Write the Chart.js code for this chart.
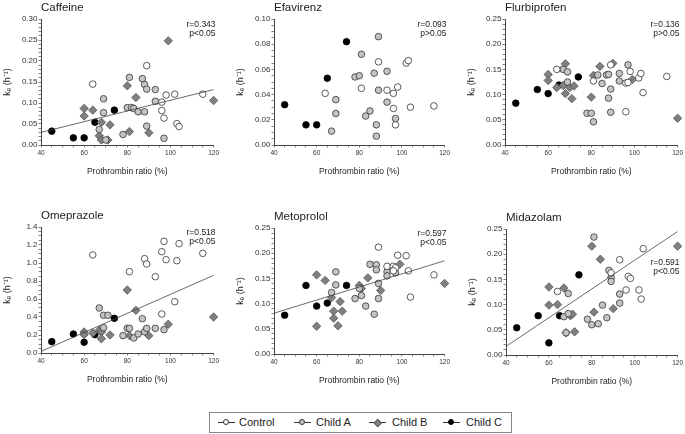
<!DOCTYPE html>
<html>
<head>
<meta charset="utf-8">
<script src="https://cdn.jsdelivr.net/npm/chart.js@4.4.0/dist/chart.umd.min.js"></script>
<style>
  body { margin: 0; background: #fff; width: 685px; height: 434px; position: relative; overflow: hidden;
         font-family: "Liberation Sans", Arial, sans-serif; color: #222; }
  .panel { position: absolute; }
  .legend { position: absolute; left: 209px; top: 412px; width: 303px; height: 21px;
            border: 1px solid #888; box-sizing: border-box; }
  .item { position: absolute; top: 0; height: 19px; }
  .sym { position: absolute; top: 9px; width: 17px; height: 1px; background: #333; }
  .mk { position: absolute; left: 5px; top: -3px; width: 6px; height: 6px; border-radius: 50%;
        border: 0.8px solid #333; box-sizing: border-box; }
  .mk.dia { border-radius: 0; transform: rotate(45deg); width: 5.5px; height: 5.5px; left: 5.5px; top: -2.5px; }
  .lab { position: absolute; top: 3px; font-size: 11px; line-height: 13px; white-space: nowrap; }
</style>
</head>
<body>
<div class="panel" style="left:0px;top:0px"><canvas id="c1" width="221" height="185"></canvas></div>
<div class="panel" style="left:233px;top:0px"><canvas id="c2" width="219" height="185"></canvas></div>
<div class="panel" style="left:464px;top:0px"><canvas id="c3" width="221" height="185"></canvas></div>
<div class="panel" style="left:0px;top:208px"><canvas id="c4" width="221" height="185"></canvas></div>
<div class="panel" style="left:233px;top:209px"><canvas id="c5" width="219" height="185"></canvas></div>
<div class="panel" style="left:465px;top:210px"><canvas id="c6" width="220" height="185"></canvas></div>

<div class="legend">
  <div class="item" style="left:8px"><div class="sym"><div class="mk" style="background:#fff"></div></div><span class="lab" style="left:21px">Control</span></div>
  <div class="item" style="left:84px"><div class="sym"><div class="mk" style="background:#c4c4c4"></div></div><span class="lab" style="left:22px">Child A</span></div>
  <div class="item" style="left:159px"><div class="sym"><div class="mk dia" style="background:#808080;border-color:#555"></div></div><span class="lab" style="left:23px">Child B</span></div>
  <div class="item" style="left:233px"><div class="sym"><div class="mk" style="background:#000;border-color:#000"></div></div><span class="lab" style="left:23px">Child C</span></div>
</div>

<script>
// x axis: prothrombin ratio (%)
const xTickLabels = [40, 60, 80, 100, 120];

// y tick labels per panel
const caffeineYTicks = [0, 0.05, 0.10, 0.15, 0.20, 0.25, 0.30];
const efavirenzYTicks = [0, 0.02, 0.04, 0.06, 0.08, 0.10];
const flurbiprofenYTicks = [0, 0.05, 0.10, 0.15, 0.20, 0.25];
const omeprazoleYTicks = [0, 0.2, 0.4, 0.6, 0.8, 1.0, 1.2, 1.4];
const metoprololYTicks = [0, 0.05, 0.10, 0.15, 0.20, 0.25];
const midazolamYTicks = [0, 0.05, 0.10, 0.15, 0.20, 0.25];

// Caffeine
const caffeineControl = [[64,0.145],[89,0.189],[98,0.119],[102,0.121],[115,0.121],[96,0.082],[97,0.064],[103,0.051],[104,0.044],[96,0.102]];
const caffeineChildA = [[69,0.110],[69,0.077],[67,0.037],[70,0.012],[78,0.025],[80,0.089],[81,0.161],[82,0.089],[83,0.087],[85,0.079],[87,0.158],[88,0.144],[88,0.079],[89,0.133],[89,0.045],[93,0.132],[93,0.104],[97,0.016]];
const caffeineChildB = [[60,0.087],[60,0.069],[64,0.083],[68,0.054],[67,0.022],[68,0.012],[71,0.012],[72,0.048],[80,0.141],[81,0.032],[84,0.113],[90,0.029],[99,0.248],[120,0.106]];
const caffeineChildC = [[45,0.033],[55,0.017],[60,0.017],[65,0.054],[74,0.083]];
const caffeineFit = [[40,0.030],[120,0.132]];

// Efavirenz
const efavirenzControl = [[64,0.041],[81,0.045],[89,0.066],[93,0.0435],[96,0.041],[98,0.046],[96,0.029],[97,0.016],[102,0.065],[103,0.067],[104,0.030],[115,0.031]];
const efavirenzChildA = [[89,0.086],[81,0.072],[78,0.054],[80,0.055],[87,0.057],[93,0.0585],[89,0.0435],[69,0.036],[69,0.025],[85,0.027],[83,0.023],[88,0.016],[88,0.007],[93,0.034],[97,0.021],[67,0.011]];
const efavirenzChildB = [];
const efavirenzChildC = [[45,0.032],[55,0.016],[60,0.016],[65,0.053],[74,0.082]];

// Flurbiprofen
const flurbiprofenControl = [[64,0.150],[81,0.127],[89,0.159],[96,0.123],[97,0.124],[98,0.146],[102,0.133],[103,0.142],[104,0.104],[115,0.136],[96,0.066]];
const flurbiprofenChildA = [[67,0.150],[69,0.145],[69,0.125],[78,0.063],[80,0.063],[81,0.046],[83,0.139],[85,0.122],[87,0.139],[88,0.140],[88,0.093],[89,0.111],[89,0.065],[93,0.142],[93,0.127],[97,0.159]];
const flurbiprofenChildB = [[60,0.140],[60,0.128],[64,0.114],[68,0.161],[67,0.118],[68,0.102],[70,0.114],[72,0.117],[71,0.092],[80,0.095],[81,0.138],[84,0.156],[90,0.162],[99,0.130],[120,0.053]];
const flurbiprofenChildC = [[45,0.083],[55,0.110],[60,0.102],[65,0.119],[74,0.135]];

// Omeprazole
const omeprazoleControl = [[64,1.089],[81,0.904],[88,1.048],[89,0.989],[93,0.848],[96,1.126],[97,1.241],[98,1.037],[103,1.026],[104,1.215],[115,1.107],[102,0.570],[96,0.433]];
const omeprazoleChildA = [[67,0.50],[69,0.419],[71,0.419],[69,0.281],[78,0.193],[80,0.274],[81,0.274],[83,0.167],[85,0.211],[87,0.381],[88,0.236],[89,0.274],[93,0.274],[97,0.259]];
const omeprazoleChildB = [[60,0.233],[60,0.204],[64,0.222],[67,0.252],[68,0.233],[68,0.159],[72,0.200],[80,0.700],[81,0.193],[84,0.474],[90,0.193],[99,0.319],[120,0.400]];
const omeprazoleChildC = [[45,0.126],[55,0.211],[60,0.119],[65,0.204],[74,0.385]];
const omeprazoleFit = [[40,0.017],[120,0.863]];

// Metoprolol
const metoprololControl = [[89,0.212],[93,0.174],[96,0.174],[97,0.171],[98,0.196],[102,0.195],[103,0.165],[104,0.113],[115,0.157],[96,0.165]];
const metoprololChildA = [[67,0.122],[69,0.163],[69,0.137],[78,0.110],[80,0.130],[81,0.116],[83,0.095],[85,0.178],[87,0.079],[88,0.177],[88,0.167],[89,0.140],[89,0.110],[93,0.163],[93,0.155],[97,0.161]];
const metoprololChildB = [[60,0.157],[60,0.055],[64,0.146],[67,0.112],[68,0.085],[68,0.071],[70,0.056],[71,0.104],[72,0.085],[80,0.136],[81,0.130],[84,0.151],[90,0.126],[99,0.178],[120,0.140]];
const metoprololChildC = [[45,0.077],[55,0.136],[60,0.095],[65,0.101],[74,0.136]];
const metoprololFit = [[40,0.081],[120,0.185]];

// Midazolam
const midazolamControl = [[64,0.126],[89,0.163],[93,0.189],[96,0.129],[97,0.156],[98,0.152],[102,0.129],[103,0.111],[104,0.211]];
const midazolamChildA = [[81,0.234],[69,0.122],[67,0.076],[69,0.082],[78,0.071],[80,0.060],[83,0.062],[85,0.099],[87,0.074],[88,0.168],[89,0.154],[89,0.146],[93,0.121],[93,0.103],[68,0.044]];
const midazolamChildB = [[60,0.135],[60,0.099],[64,0.100],[67,0.133],[68,0.044],[70,0.078],[71,0.081],[72,0.046],[80,0.216],[81,0.085],[84,0.190],[90,0.092],[120,0.216]];
const midazolamChildC = [[45,0.054],[55,0.078],[60,0.024],[65,0.078],[74,0.159]];
const midazolamFit = [[40,0.017],[120,0.245]];

const FONT = '"Liberation Sans", Arial, Helvetica, sans-serif';

// panel title + r / p text
const panelText = {
  id: 'panelText',
  afterDraw(chart, args, opts) {
    const ctx = chart.ctx, area = chart.chartArea;
    ctx.save();
    ctx.fillStyle = '#222';
    ctx.textBaseline = 'middle';
    ctx.textAlign = 'left';
    ctx.font = '11.5px ' + FONT;
    ctx.fillText(opts.title, area.left, area.top - 11);
    ctx.font = '8.5px ' + FONT;
    ctx.textAlign = 'right';
    ctx.fillText(opts.r, area.right + 2, area.top + opts.dy);
    ctx.fillText(opts.p, area.right + 2, area.top + opts.dy + 9);
    ctx.restore();
  }
};

function withMinor(majors, parts) {
  var out = [];
  for (var i = 0; i < majors.length - 1; i++) {
    var step = (majors[i + 1] - majors[i]) / parts;
    for (var j = 0; j < parts; j++) out.push(+(majors[i] + j * step).toFixed(6));
  }
  out.push(majors[majors.length - 1]);
  return out;
}

function isMajor(v, majors) {
  return majors.some(function (m) { return Math.abs(m - v) < 1e-6; });
}

function toPts(arr) {
  return arr.map(function (p) { return { x: p[0], y: p[1] }; });
}

function makePanel(id, o) {
  var datasets = [
    { label: 'Control', data: toPts(o.control), pointStyle: 'circle', pointRadius: 3.3, clip: false,
      backgroundColor: '#fff', borderColor: '#333', borderWidth: 0.8 },
    { label: 'Child A', data: toPts(o.childA), pointStyle: 'circle', pointRadius: 3.3, clip: false,
      backgroundColor: '#c4c4c4', borderColor: '#333', borderWidth: 0.8 },
    { label: 'Child B', data: toPts(o.childB), pointStyle: 'rectRot', pointRadius: 4.2, clip: false,
      backgroundColor: '#808080', borderColor: '#555', borderWidth: 0.8 },
    { label: 'Child C', data: toPts(o.childC), pointStyle: 'circle', pointRadius: 3.3, clip: false,
      backgroundColor: '#000', borderColor: '#000', borderWidth: 0.8 }
  ];
  if (o.fit) {
    datasets.unshift({ label: 'fit', data: toPts(o.fit), showLine: true, pointRadius: 0,
      borderColor: '#444', borderWidth: 0.8, backgroundColor: '#444' });
  }
  var yTicks = withMinor(o.yTicks, o.yParts);
  var xTicks = withMinor(xTickLabels, 4);

  new Chart(document.getElementById(id), {
    type: 'scatter',
    data: { datasets: datasets },
    plugins: [panelText],
    options: {
      responsive: false,
      animation: false,
      layout: { padding: { top: 19, right: 4, left: 0, bottom: 0 } },
      plugins: {
        legend: { display: false },
        tooltip: { enabled: false },
        panelText: { title: o.title, r: o.r, p: o.p, dy: o.dy || 6 }
      },
      scales: {
        x: {
          type: 'linear', min: 40, max: 120,
          afterBuildTicks: function (s) { s.ticks = xTicks.map(function (v) { return { value: v }; }); },
          afterFit: function (s) { s.height = 40; },
          ticks: {
            autoSkip: false, maxRotation: 0, padding: 2, color: '#333',
            font: { family: FONT, size: 6.5 },
            callback: function (v) { return isMajor(v, xTickLabels) ? String(v) : ''; }
          },
          grid: { drawOnChartArea: false, drawTicks: true, tickLength: 2.5, color: '#666', lineWidth: 0.8 },
          border: { color: '#444', width: 1 },
          title: { display: true, text: 'Prothrombin ratio (%)', color: '#222',
                   font: { family: FONT, size: 8.5 }, padding: { top: 4, bottom: 8 } }
        },
        y: {
          type: 'linear', min: 0, max: o.yTicks[o.yTicks.length - 1],
          afterBuildTicks: function (s) { s.ticks = yTicks.map(function (v) { return { value: v }; }); },
          afterFit: function (s) { s.width = 41; },
          ticks: {
            autoSkip: false, padding: 1, color: '#333',
            font: { family: FONT, size: 8 },
            callback: function (v) { return isMajor(v, o.yTicks) ? v.toFixed(o.dec) : ''; }
          },
          grid: { drawOnChartArea: false, drawTicks: true, tickLength: 2.5, color: '#666', lineWidth: 0.8 },
          border: { color: '#444', width: 1 },
          title: { display: true, text: 'k\u2091 (h\u207B\u00B9)', color: '#222',
                   font: { family: FONT, size: 9 }, padding: { top: 2, bottom: 0 } }
        }
      }
    }
  });
}

makePanel('c1', { title: 'Caffeine', r: 'r=0.343', p: 'p<0.05', yTicks: caffeineYTicks, yParts: 5, dec: 2,
  control: caffeineControl, childA: caffeineChildA, childB: caffeineChildB, childC: caffeineChildC, fit: caffeineFit });
makePanel('c2', { title: 'Efavirenz', r: 'r=0.093', p: 'p>0.05', yTicks: efavirenzYTicks, yParts: 4, dec: 2,
  control: efavirenzControl, childA: efavirenzChildA, childB: efavirenzChildB, childC: efavirenzChildC });
makePanel('c3', { title: 'Flurbiprofen', r: 'r=0.136', p: 'p>0.05', yTicks: flurbiprofenYTicks, yParts: 5, dec: 2,
  control: flurbiprofenControl, childA: flurbiprofenChildA, childB: flurbiprofenChildB, childC: flurbiprofenChildC });
makePanel('c4', { title: 'Omeprazole', r: 'r=0.518', p: 'p<0.05', yTicks: omeprazoleYTicks, yParts: 4, dec: 1,
  control: omeprazoleControl, childA: omeprazoleChildA, childB: omeprazoleChildB, childC: omeprazoleChildC, fit: omeprazoleFit });
makePanel('c5', { title: 'Metoprolol', r: 'r=0.597', p: 'p<0.05', yTicks: metoprololYTicks, yParts: 5, dec: 2,
  control: metoprololControl, childA: metoprololChildA, childB: metoprololChildB, childC: metoprololChildC, fit: metoprololFit });
makePanel('c6', { title: 'Midazolam', r: 'r=0.591', p: 'p<0.05', yTicks: midazolamYTicks, yParts: 5, dec: 2, dy: 34,
  control: midazolamControl, childA: midazolamChildA, childB: midazolamChildB, childC: midazolamChildC, fit: midazolamFit });
</script>
</body>
</html>
